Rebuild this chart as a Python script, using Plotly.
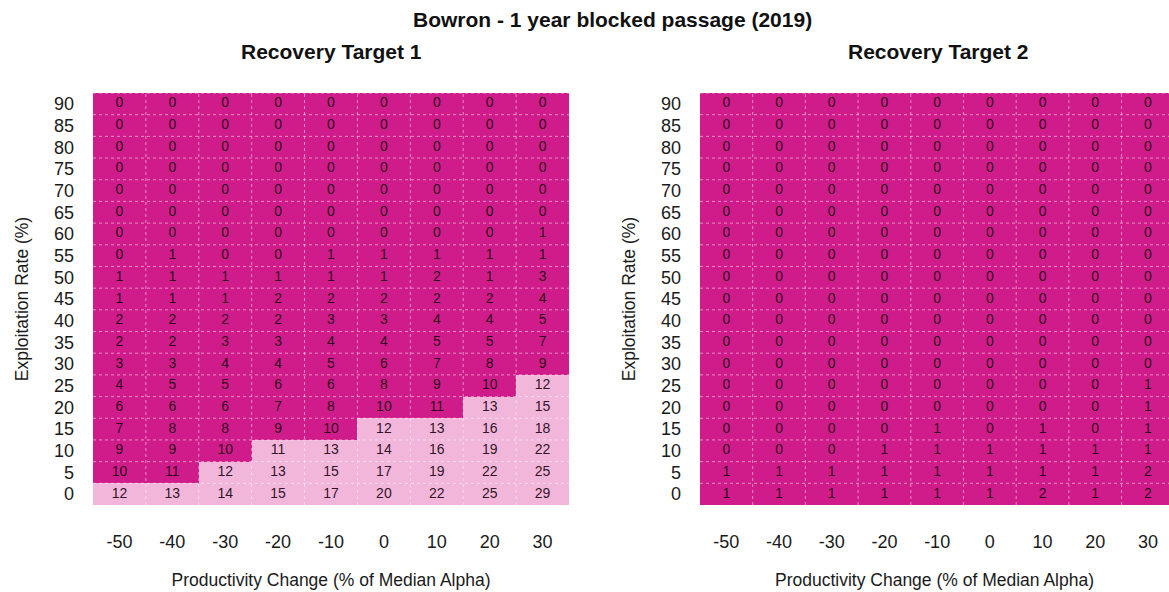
import plotly.graph_objects as go

# Axes
productivity = [-50, -40, -30, -20, -10, 0, 10, 20, 30]
productivity_labels = ["-50", "-40", "-30", "-20", "-10", "0", "10", "20", "30"]
exploitation = [90, 85, 80, 75, 70, 65, 60, 55, 50, 45, 40, 35, 30, 25, 20, 15, 10, 5, 0]

# Recovery Target 1: years to recovery (rows follow `exploitation`)
target1_values = [
    [0, 0, 0, 0, 0, 0, 0, 0, 0],
    [0, 0, 0, 0, 0, 0, 0, 0, 0],
    [0, 0, 0, 0, 0, 0, 0, 0, 0],
    [0, 0, 0, 0, 0, 0, 0, 0, 0],
    [0, 0, 0, 0, 0, 0, 0, 0, 0],
    [0, 0, 0, 0, 0, 0, 0, 0, 0],
    [0, 0, 0, 0, 0, 0, 0, 0, 1],
    [0, 1, 0, 0, 1, 1, 1, 1, 1],
    [1, 1, 1, 1, 1, 1, 2, 1, 3],
    [1, 1, 1, 2, 2, 2, 2, 2, 4],
    [2, 2, 2, 2, 3, 3, 4, 4, 5],
    [2, 2, 3, 3, 4, 4, 5, 5, 7],
    [3, 3, 4, 4, 5, 6, 7, 8, 9],
    [4, 5, 5, 6, 6, 8, 9, 10, 12],
    [6, 6, 6, 7, 8, 10, 11, 13, 15],
    [7, 8, 8, 9, 10, 12, 13, 16, 18],
    [9, 9, 10, 11, 13, 14, 16, 19, 22],
    [10, 11, 12, 13, 15, 17, 19, 22, 25],
    [12, 13, 14, 15, 17, 20, 22, 25, 29],
]

# Recovery Target 1: 1 = recovery within the time frame, 0 = not
target1_class = [
    [0, 0, 0, 0, 0, 0, 0, 0, 0],
    [0, 0, 0, 0, 0, 0, 0, 0, 0],
    [0, 0, 0, 0, 0, 0, 0, 0, 0],
    [0, 0, 0, 0, 0, 0, 0, 0, 0],
    [0, 0, 0, 0, 0, 0, 0, 0, 0],
    [0, 0, 0, 0, 0, 0, 0, 0, 0],
    [0, 0, 0, 0, 0, 0, 0, 0, 0],
    [0, 0, 0, 0, 0, 0, 0, 0, 0],
    [0, 0, 0, 0, 0, 0, 0, 0, 0],
    [0, 0, 0, 0, 0, 0, 0, 0, 0],
    [0, 0, 0, 0, 0, 0, 0, 0, 0],
    [0, 0, 0, 0, 0, 0, 0, 0, 0],
    [0, 0, 0, 0, 0, 0, 0, 0, 0],
    [0, 0, 0, 0, 0, 0, 0, 0, 1],
    [0, 0, 0, 0, 0, 0, 0, 1, 1],
    [0, 0, 0, 0, 0, 1, 1, 1, 1],
    [0, 0, 0, 1, 1, 1, 1, 1, 1],
    [0, 0, 1, 1, 1, 1, 1, 1, 1],
    [1, 1, 1, 1, 1, 1, 1, 1, 1],
]

# Recovery Target 2
target2_values = [
    [0, 0, 0, 0, 0, 0, 0, 0, 0],
    [0, 0, 0, 0, 0, 0, 0, 0, 0],
    [0, 0, 0, 0, 0, 0, 0, 0, 0],
    [0, 0, 0, 0, 0, 0, 0, 0, 0],
    [0, 0, 0, 0, 0, 0, 0, 0, 0],
    [0, 0, 0, 0, 0, 0, 0, 0, 0],
    [0, 0, 0, 0, 0, 0, 0, 0, 0],
    [0, 0, 0, 0, 0, 0, 0, 0, 0],
    [0, 0, 0, 0, 0, 0, 0, 0, 0],
    [0, 0, 0, 0, 0, 0, 0, 0, 0],
    [0, 0, 0, 0, 0, 0, 0, 0, 0],
    [0, 0, 0, 0, 0, 0, 0, 0, 0],
    [0, 0, 0, 0, 0, 0, 0, 0, 0],
    [0, 0, 0, 0, 0, 0, 0, 0, 1],
    [0, 0, 0, 0, 0, 0, 0, 0, 1],
    [0, 0, 0, 0, 1, 0, 1, 0, 1],
    [0, 0, 0, 1, 1, 1, 1, 1, 1],
    [1, 1, 1, 1, 1, 1, 1, 1, 2],
    [1, 1, 1, 1, 1, 1, 2, 1, 2],
]
target2_class = [[0] * len(productivity) for _ in exploitation]

DARK = "#D01C8B"
LIGHT = "#F1B6DA"
FONT = "Liberation Sans"

fig = go.Figure()

panels = [
    (target1_values, target1_class, "x", "y"),
    (target2_values, target2_class, "x2", "y2"),
]
for values, classes, xa, ya in panels:
    fig.add_trace(go.Heatmap(
        x=productivity, y=exploitation, z=classes,
        colorscale=[[0, DARK], [0.5, DARK], [0.5, LIGHT], [1, LIGHT]],
        zmin=0, zmax=1, showscale=False, hoverinfo="skip",
        xaxis=xa, yaxis=ya,
    ))
    # cell labels
    xs, ys, labels = [], [], []
    for row, yv in zip(values, exploitation):
        for v, xv in zip(row, productivity):
            xs.append(xv)
            ys.append(yv)
            labels.append(str(v))
    fig.add_trace(go.Scatter(
        x=xs, y=ys, text=labels, mode="text",
        textfont=dict(family=FONT, size=14, color="rgba(20,0,10,0.9)"),
        hoverinfo="skip", showlegend=False, xaxis=xa, yaxis=ya,
    ))

# dotted cell borders drawn over the tiles
x_edges = [(a + b) / 2 for a, b in zip(productivity[:-1], productivity[1:])]
y_edges = [(a + b) / 2 for a, b in zip(exploitation[:-1], exploitation[1:])]
x_lo, x_hi = productivity[0] - 5, productivity[-1] + 5
y_lo, y_hi = exploitation[-1] - 2.5, exploitation[0] + 2.5
grid_line = dict(color="rgba(255,255,255,0.5)", width=1, dash="dot")
shapes = []
for xr, yr in [("x", "y"), ("x2", "y2")]:
    for xe in x_edges:
        shapes.append(dict(type="line", xref=xr, yref=yr, x0=xe, x1=xe,
                           y0=y_lo, y1=y_hi, line=grid_line, layer="above"))
    for ye in y_edges + [y_hi]:
        shapes.append(dict(type="line", xref=xr, yref=yr, x0=x_lo, x1=x_hi,
                           y0=ye, y1=ye, line=grid_line, layer="above"))

W, H = 1169, 592
y_dom = [1 - 505 / H, 1 - 93 / H]
axis_font = dict(family=FONT, size=18, color="#1a1a1a")
title_font = dict(family=FONT, size=17.5, color="#1a1a1a")

xcommon = dict(tickvals=productivity, ticktext=productivity_labels, tickfont=axis_font,
               showgrid=False, zeroline=False, showline=False, ticks="",
               ticklabelstandoff=24,
               title=dict(text="Productivity Change (% of Median Alpha)",
                          font=title_font, standoff=22))
ycommon = dict(tickvals=exploitation, tickfont=axis_font, showgrid=False,
               zeroline=False, showline=False, ticks="", ticklabelstandoff=18,
               range=[y_lo, y_hi], domain=y_dom,
               title=dict(text="Exploitation Rate (%)", font=title_font, standoff=20))

fig.update_layout(
    width=W, height=H,
    margin=dict(l=0, r=0, t=0, b=0),
    paper_bgcolor="white", plot_bgcolor="white",
    font=dict(family=FONT),
    xaxis=dict(domain=[93 / W, 569 / W], range=[x_lo, x_hi], anchor="y", **xcommon),
    yaxis=dict(anchor="x", **ycommon),
    xaxis2=dict(domain=[700 / W, 1.0], range=[x_lo, x_hi - 1.0], anchor="y2", **xcommon),
    yaxis2=dict(anchor="x2", **ycommon),
    shapes=shapes,
    annotations=[
        dict(text="<b>Bowron - 1 year blocked passage (2019)</b>", x=612 / W, y=1 - 20 / H,
             xref="paper", yref="paper", showarrow=False,
             xanchor="center", yanchor="middle",
             font=dict(family=FONT, size=21, color="#111")),
        dict(text="<b>Recovery Target 1</b>", x=331 / W, y=1 - 51 / H,
             xref="paper", yref="paper", showarrow=False,
             xanchor="center", yanchor="middle",
             font=dict(family=FONT, size=21, color="#111")),
        dict(text="<b>Recovery Target 2</b>", x=938 / W, y=1 - 51 / H,
             xref="paper", yref="paper", showarrow=False,
             xanchor="center", yanchor="middle",
             font=dict(family=FONT, size=21, color="#111")),
    ],
)

fig.write_html("out.html")
